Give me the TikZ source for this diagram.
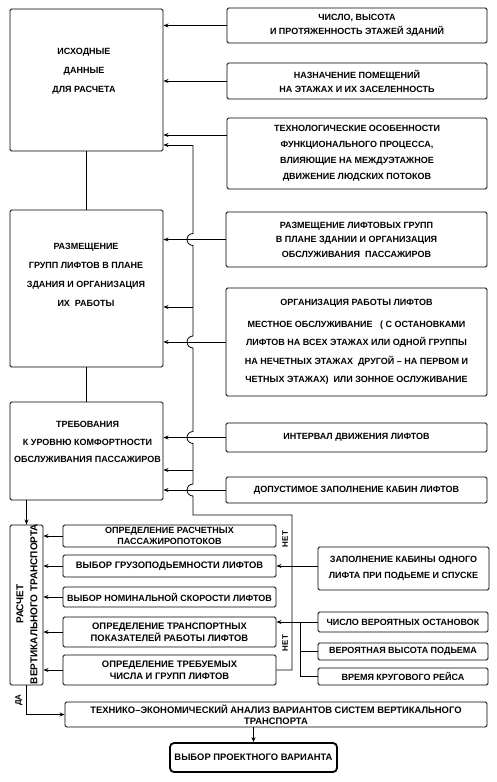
\documentclass[tikz,border=0pt]{standalone}
\usepackage{fontspec}
\setmainfont{Liberation Sans}
\usetikzlibrary{arrows.meta}
\newcommand\UC[1]{\uppercase{#1}}
\begin{document}
\begin{tikzpicture}[x=1pt,y=-1pt,
  box/.style={draw, line width=0.9pt, rounded corners=1.5pt, inner sep=0pt, align=center,
    font=\fontsize{9}{14}\selectfont\bfseries},
  lbox/.style={box, font=\fontsize{9.4}{12}\selectfont\bfseries},
  txt/.style={inner sep=0pt, align=center, font=\fontsize{9}{19}\selectfont\bfseries},
  lab/.style={inner sep=0pt, font=\fontsize{8}{9}\selectfont\bfseries},
  ln/.style={line width=0.8pt},
  arr/.style={line width=0.8pt, -{Stealth[length=5pt,width=4pt]}},
]
\fill[white] (0,0) rectangle (497,782);
\useasboundingbox (0,0) rectangle (497,782);

% left column
\node[box, minimum width=153, minimum height=142] (a) at (86.5,80) {};
\node[txt] (at) at (84,71) {\UC{ИСХОДНЫЕ\\ДАННЫЕ\\ДЛЯ РАСЧЕТА}};
\node[box, minimum width=153, minimum height=157] (b) at (86.5,288.5) {};
\node[txt] (bt) at (86,275) {\UC{РАЗМЕЩЕНИЕ\\ГРУПП ЛИФТОВ В ПЛАНЕ\\ЗДАНИЯ И ОРГАНИЗАЦИЯ\\ИХ \ РАБОТЫ}};
\node[box, minimum width=153, minimum height=98] (c) at (86.5,451) {};
\node[txt, font=\fontsize{9}{17.5}\selectfont\bfseries] (ct) at (87.5,442) {\UC{ТРЕБОВАНИЯ\\К УРОВНЮ КОМФОРТНОСТИ\\ОБСЛУЖИВАНИЯ ПАССАЖИРОВ}};

% right column
\node[box, minimum width=260, minimum height=35] (r1) at (357,25.5) {\UC{ЧИСЛО, ВЫСОТА\\И ПРОТЯЖЕННОСТЬ ЭТАЖЕЙ ЗДАНИЙ}};
\node[box, minimum width=260, minimum height=36] (r2) at (357,81) {\UC{НАЗНАЧЕНИЕ ПОМЕЩЕНИЙ\\НА ЭТАЖАХ И ИХ ЗАСЕЛЕННОСТЬ}};
\node[box, minimum width=260, minimum height=71, font=\fontsize{9}{16}\selectfont\bfseries] (r3) at (357,153.5) {\UC{ТЕХНОЛОГИЧЕСКИЕ ОСОБЕННОСТИ\\ФУНКЦИОНАЛЬНОГО ПРОЦЕССА,\\ВЛИЯЮЩИЕ НА МЕЖДУЭТАЖНОЕ\\ДВИЖЕНИЕ ЛЮДСКИХ ПОТОКОВ}};
\node[box, minimum width=261, minimum height=55, font=\fontsize{9}{14.5}\selectfont\bfseries] (r4) at (356.5,239.5) {\UC{РАЗМЕЩЕНИЕ ЛИФТОВЫХ ГРУПП\\В ПЛАНЕ ЗДАНИИ И ОРГАНИЗАЦИЯ\\ОБСЛУЖИВАНИЯ \ ПАССАЖИРОВ}};
\node[box, minimum width=261, minimum height=108, font=\fontsize{9}{18.5}\selectfont\bfseries] (r5) at (356.5,342) {\UC{ОРГАНИЗАЦИЯ РАБОТЫ ЛИФТОВ}\\[3pt]\UC{МЕСТНОЕ ОБСЛУЖИВАНИЕ \ \ ( С ОСТАНОВКАМИ\\ЛИФТОВ НА ВСЕХ ЭТАЖАХ ИЛИ ОДНОЙ ГРУППЫ\\НА НЕЧЕТНЫХ ЭТАЖАХ \ ДРУГОЙ – НА ПЕРВОМ И\\ЧЕТНЫХ ЭТАЖАХ) \ ИЛИ ЗОННОЕ ОСЛУЖИВАНИЕ}};
\node[box, minimum width=261, minimum height=29] (r6) at (356.5,437.5) {\UC{ИНТЕРВАЛ ДВИЖЕНИЯ ЛИФТОВ}};
\node[box, minimum width=261, minimum height=26] (r7) at (356.5,490) {\UC{ДОПУСТИМОЕ ЗАПОЛНЕНИЕ КАБИН ЛИФТОВ}};

% lower part
\node[box, minimum width=33, minimum height=160] (v) at (26.5,605) {};
\node[lab, rotate=90, align=center, font=\fontsize{10}{14}\selectfont\bfseries] (vt) at (27,604) {\UC{РАСЧЕТ\\ВЕРТИКАЛЬНОГО ТРАНСПОРТА}};
\node[lbox, minimum width=213, minimum height=22, font=\fontsize{9}{11}\selectfont\bfseries] (l1) at (169.5,536) {\UC{ОПРЕДЕЛЕНИЕ РАСЧЕТНЫХ\\ПАССАЖИРОПОТОКОВ}};
\node[lbox, minimum width=213, minimum height=22] (l2) at (169.5,566) {\UC{ВЫБОР ГРУЗОПОДЬЕМНОСТИ ЛИФТОВ}};
\node[lbox, minimum width=213, minimum height=20, font=\fontsize{9}{12}\selectfont\bfseries] (l3) at (169.5,597) {\UC{ВЫБОР НОМИНАЛЬНОЙ СКОРОСТИ ЛИФТОВ}};
\node[lbox, minimum width=213, minimum height=30] (l4) at (169.5,632) {\UC{ОПРЕДЕЛЕНИЕ ТРАНСПОРТНЫХ\\ПОКАЗАТЕЛЕЙ РАБОТЫ ЛИФТОВ}};
\node[lbox, minimum width=213, minimum height=30] (l5) at (169.5,670) {\UC{ОПРЕДЕЛЕНИЕ ТРЕБУЕМЫХ\\ЧИСЛА И ГРУПП ЛИФТОВ}};
\node[lbox, minimum width=171, minimum height=43, font=\fontsize{9}{16}\selectfont\bfseries] (z) at (403.5,568.5) {\UC{ЗАПОЛНЕНИЕ КАБИНЫ ОДНОГО\\ЛИФТА ПРИ ПОДЬЕМЕ И СПУСКЕ}};
\node[lbox, minimum width=170, minimum height=20, font=\fontsize{9}{11}\selectfont\bfseries] (n1) at (403,622) {\UC{ЧИСЛО ВЕРОЯТНЫХ ОСТАНОВОК}};
\node[lbox, minimum width=170, minimum height=17, font=\fontsize{9}{11}\selectfont\bfseries] (n2) at (403,651.5) {\UC{ВЕРОЯТНАЯ ВЫСОТА ПОДЬЕМА}};
\node[lbox, minimum width=170, minimum height=17, font=\fontsize{9}{11}\selectfont\bfseries] (n3) at (403,676.5) {\UC{ВРЕМЯ КРУГОВОГО РЕЙСА}};
\node[lbox, minimum width=422, minimum height=25, font=\fontsize{9.4}{11}\selectfont\bfseries] (t) at (276,714.5) {\UC{ТЕХНИКО–ЭКОНОМИЧЕСКИЙ АНАЛИЗ ВАРИАНТОВ СИСТЕМ ВЕРТИКАЛЬНОГО\\ТРАНСПОРТА}};
\node[lbox, minimum width=167, minimum height=29, line width=1.8pt, rounded corners=4pt] (p) at (253.5,757.5) {\UC{ВЫБОР ПРОЕКТНОГО ВАРИАНТА}};

\node[lab, rotate=90] (net1) at (285,539) {\UC{НЕТ}};
\node[lab, rotate=90] (net2) at (285,643) {\UC{НЕТ}};
\node[lab, rotate=90] (da) at (19,700) {\UC{ДА}};

% connectors: left column
\draw[ln] (a.south) -- (b.north);
\draw[ln] (b.south) -- (c.north);
\draw[arr] (c.south -| v.north) -- (v.north);

% right column to left boxes
\draw[arr] (r1.west) -- (r1.west -| a.east);
\draw[arr] (r2.west) -- (r2.west -| a.east);
\draw[arr] (r3.west |- 0,135) -- (a.east |- 0,135);
\draw[arr] (r4.west) -- (r4.west -| b.east);
\draw[arr] (r5.west) -- (r5.west -| b.east);
\draw[arr] (r6.west) -- (r6.west -| c.east);
\draw[arr] (r7.west) -- (r7.west -| c.east);

% feedback line with hops
\coordinate (f0) at (193,145);
\coordinate (fb) at (193,307);
\coordinate (fc) at (193,470);
\coordinate (f1) at (193,515);
\coordinate (f2) at (292,515);
\coordinate (f3) at (292,670);
\draw[arr] (f0) -- (f0 -| a.east);
\draw[arr] (fb) -- (fb -| b.east);
\draw[arr] (fc) -- (fc -| c.east);
\draw[ln] (f0) -- (193,233.5) arc[start angle=270,end angle=90,radius=6]
  -- (193,336) arc[start angle=270,end angle=90,radius=6]
  -- (193,431.5) arc[start angle=270,end angle=90,radius=6]
  -- (193,484) arc[start angle=270,end angle=90,radius=6]
  -- (f1) -- (f2) -- (f3) -- (l5.east);

% lower connectors
\draw[arr] (l1.west) -- (l1.west -| v.east);
\draw[arr] (l2.west) -- (l2.west -| v.east);
\draw[arr] (l3.west) -- (l3.west -| v.east);
\draw[arr] (l4.west) -- (l4.west -| v.east);
\draw[arr] (l5.west) -- (l5.west -| v.east);
\draw[arr] (v.south) -- (v.south |- t.west) -- (t.west);
\draw[arr] (t.south -| p.north) -- (p.north);
\draw[arr] (z.west |- l2.east) -- (l2.east);
\coordinate (bx) at (300,622);
\draw[arr] (n1.west) -- (n1.west -| l4.east);
\draw[ln] (n3.west) -- (n3.west -| bx) -- (bx);
\draw[ln] (n2.west) -- (n2.west -| bx);
\end{tikzpicture}
\end{document}
